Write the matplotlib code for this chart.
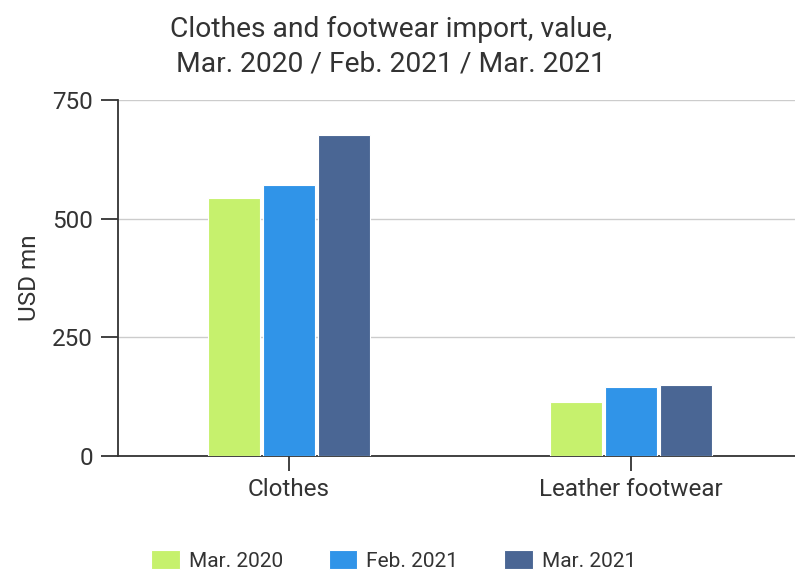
import matplotlib
matplotlib.use("Agg")
import matplotlib.pyplot as plt
import numpy as np

categories = ["Clothes", "Leather footwear"]
series_names = ["Mar. 2020", "Feb. 2021", "Mar. 2021"]
values_mar2020 = [544, 114]
values_feb2021 = [570, 145]
values_mar2021 = [676, 149]
series_values = [values_mar2020, values_feb2021, values_mar2021]
colors = ["#c6f16d", "#3094e8", "#4a6694"]
yticks = [0, 250, 500, 750]

plt.rcParams['font.family'] = ['Roboto', 'DejaVu Sans']
text_color = "#333333"

fig = plt.figure(figsize=(7.95, 5.72), dpi=100)
ax = fig.add_axes([0.1484, 0.2028, 0.8516, 0.6224])

x = np.arange(len(categories))
width = 0.152
step = 0.16
for i, (name, vals, c) in enumerate(zip(series_names, series_values, colors)):
    ax.bar(x + (i - 1) * step, vals, width=width, color=c, edgecolor="white",
           linewidth=0.8, label=name, zorder=3)

ax.set_xlim(-0.5, 1.48)
ax.set_ylim(0, 750)
ax.set_yticks(yticks)
ax.set_yticklabels([str(v) for v in yticks])
ax.set_xticks(x)
ax.set_xticklabels(categories)
ax.grid(axis="y", color="#cccccc", linewidth=1, zorder=0)
for s in ["top", "right"]:
    ax.spines[s].set_visible(False)
for s in ["left", "bottom"]:
    ax.spines[s].set_color("#333333")
    ax.spines[s].set_linewidth(1.3)
ax.tick_params(axis="y", length=12, width=1.3, color="#333333", labelsize=17.5,
               labelcolor=text_color, pad=6)
ax.tick_params(axis="x", length=11, width=1.3, color="#333333", labelsize=17.5,
               labelcolor=text_color, pad=5)
ax.set_ylabel("USD mn", fontsize=17.5, color=text_color, labelpad=8)

fig.text(0.492, 0.918, "Clothes and footwear import, value,\nMar. 2020 / Feb. 2021 / Mar. 2021",
         ha="center", va="center", fontsize=20.3, color=text_color, linespacing=1.38)

leg = fig.legend(loc="center", bbox_to_anchor=(0.495, 0.02), ncol=3, frameon=False,
                 fontsize=15, handlelength=1.39, handleheight=1.0, handletextpad=0.43,
                 columnspacing=2.2, labelcolor=text_color, borderpad=0.2)

fig.savefig("out.png", dpi=100)
